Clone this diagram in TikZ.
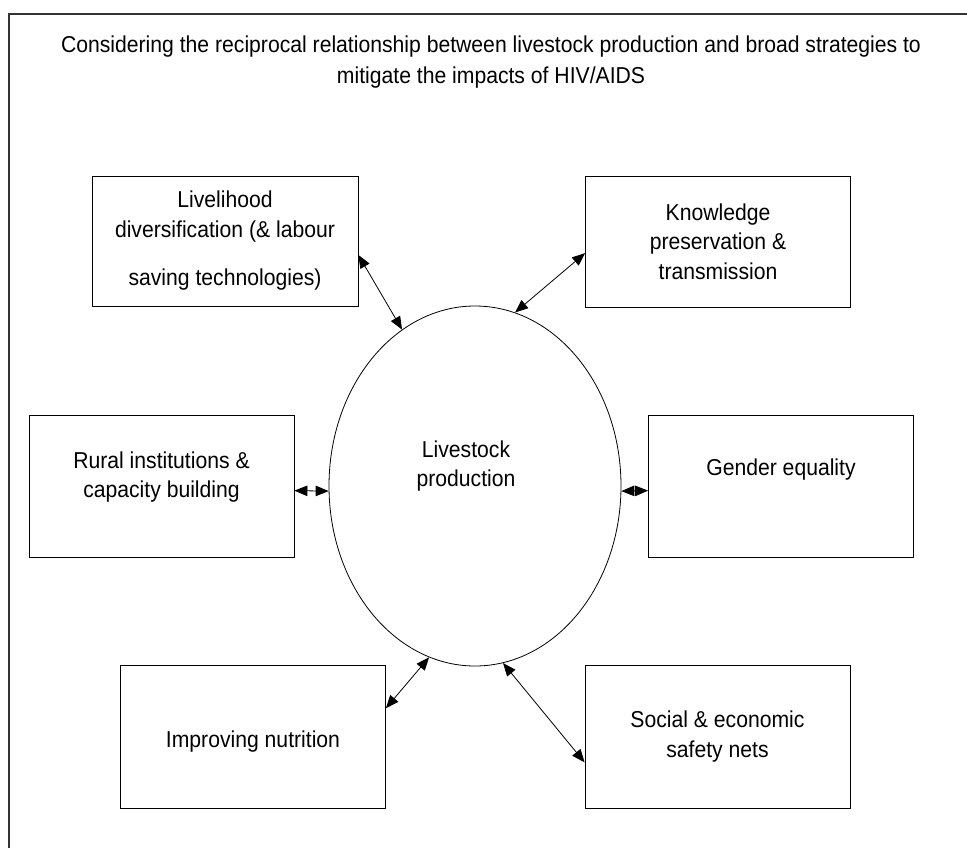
\documentclass[tikz,border=0pt]{standalone}
\usepackage{fontspec}
\setmainfont{Liberation Sans}[FakeStretch=0.92]
\usetikzlibrary{arrows.meta,shapes.geometric}

\begin{document}
\begin{tikzpicture}[
  x=1pt, y=-1pt,
  box/.style={
    draw, line width=0.8pt,
    inner sep=0pt, minimum width=265pt
  },
  txt/.style={font=\fontsize{23}{29.5}\selectfont, align=center, inner sep=0pt},
  link/.style={<->, >={Triangle[length=13pt,width=10.5pt]}, line width=0.8pt}
]
\useasboundingbox (0,0) rectangle (967,847);

% --- Frame (runs off the right and bottom edges) ---
\draw[line width=1.6pt, black!80] (9,880) -- (9,14) -- (1000,14);

% --- Title ---
\node[txt, font=\fontsize{23}{31}\selectfont] (title) at (491,62)
  {Considering the reciprocal relationship between livestock production and broad strategies to\\
   mitigate the impacts of HIV/AIDS};

% --- Centre ---
\node[draw, ellipse, line width=0.8pt, minimum width=292pt, minimum height=360pt, inner sep=0pt] (lp) at (475,486) {};
\node[txt] (lp-t) at (466,466) {Livestock\\production};

% --- Boxes ---
\node[box, minimum width=266pt, minimum height=130pt] (live) at (225,241) {};
\node[txt] (live-t) at (live.center) {Livelihood\\diversification (\& labour\\[19pt]saving technologies)};

\node[box, minimum height=131pt] (know) at (718,241.5) {};
\node[txt] (know-t) at (know.center) {Knowledge\\preservation \&\\transmission};

\node[box, minimum height=142pt] (rural) at (161.5,486) {};
\node[txt] (rural-t) at ([yshift=9pt]rural.center) {Rural institutions \&\\capacity building};

\node[box, minimum height=142pt] (gen) at (781,486) {};
\node[txt] (gen-t) at ([yshift=16pt]gen.center) {Gender equality};

\node[box, minimum height=143pt] (imp) at (253,736.5) {};
\node[txt] (imp-t) at ([yshift=-5.5pt]imp.center) {Improving nutrition};

\node[box, minimum height=143pt] (soc) at (717.5,736.5) {};
\node[txt] (soc-t) at (soc.center) {Social \& economic\\safety nets};

% --- Links ---
\foreach \a/\b in {live.-6/lp.115, know.185/lp.77, rural.-2/lp.182,
                   gen.182/lp.-2, imp.12/lp.255, soc.191/lp.279}
  \draw[link] (\a) -- (\b);

\end{tikzpicture}
\end{document}
